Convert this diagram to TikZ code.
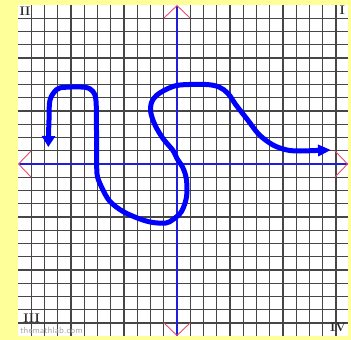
\documentclass[tikz,border=0pt]{standalone}
\usetikzlibrary{arrows.meta}
\definecolor{bgyellow}{RGB}{255,255,153}
\definecolor{gridc}{RGB}{70,70,70}
\definecolor{axisblue}{RGB}{30,30,220}
\definecolor{tipred}{RGB}{225,80,110}
\definecolor{curveblue}{RGB}{0,0,255}
\tikzset{
  gridline/.style={draw=gridc, line width=1.1pt},
  axisline/.style={draw=axisblue, line width=1.6pt},
  redtip/.style={draw=tipred, line width=0.9pt},
  quad/.style={font=\fontsize{12.5}{12.5}\selectfont\bfseries, inner sep=0pt, text=black!85},
  curve/.style={draw=curveblue, line width=5pt, line cap=round, line join=round},
}
\begin{document}
\begin{tikzpicture}[x=1pt,y=-1pt]
\useasboundingbox (0,0) rectangle (351,340);
\fill[bgyellow] (0,0) rectangle (351,340);
\fill[white] (18,5) rectangle (348,336);
% grid
\foreach \k in {1,...,11} {
  \draw[gridline] ({177-13.25*\k},5) -- ({177-13.25*\k},336);
  \draw[gridline] (18,{164-13.25*\k}) -- (348,{164-13.25*\k});
}
\foreach \k in {1,...,12} {
  \draw[gridline] ({177+13.25*\k},5) -- ({177+13.25*\k},336);
  \draw[gridline] (18,{164+13.25*\k}) -- (348,{164+13.25*\k});
}
% axes
\coordinate (top) at (177,5.5);
\coordinate (bot) at (177,335.5);
\coordinate (lft) at (18.5,164);
\coordinate (rgt) at (347.5,164);
\draw[axisline] (top) -- (bot);
\draw[axisline] (lft) -- (rgt);
% red open arrow tips
\draw[redtip] (164,18) -- (top) -- (190,18);
\draw[redtip] (164,323) -- (bot) -- (190,323);
\draw[redtip] (31,151) -- (lft) -- (31,177);
\draw[redtip] (335,151) -- (rgt) -- (335,177);
% labels
\node[quad] (q2) at (25,11) {II};
\node[quad] (q1) at (342.3,10.5) {I};
\node[quad] (q3) at (31.5,318.5) {III};
\node[quad] (q4) at (338,327) {IV};
\node[font=\sffamily\fontsize{9}{9}\selectfont, text=gray!70, inner sep=0pt] (wm) at (51.5,330) {themathlab.com};
% curve
\draw[curve, {Triangle[length=11pt,width=13pt]}-{Triangle[length=13pt,width=11pt]}]
  plot[smooth, tension=0.55] coordinates {
  (48.3,147) (49,120) (50,100) (56.7,89.5) (65,87.3) (85,87.3) (93,91.5) (96,101)
  (96.5,130) (96.7,165) (97.5,177) (103,190) (110,201.5) (123,211.5) (140,219)
  (153,222.5) (166,223) (173,219.5) (181.5,211.5) (186.5,197) (186.5,180)
  (183,168) (177,158.5) (173,150.5) (163,138.5) (155,125) (150.7,112) (151.7,102)
  (157,95) (168,88.5) (180,85) (206,84.5) (219,87) (228,93.5) (236,105) (247,119)
  (259,134.5) (273,145) (287,150) (300,151) (316,150.5) (331,150)
  };
\end{tikzpicture}
\end{document}
